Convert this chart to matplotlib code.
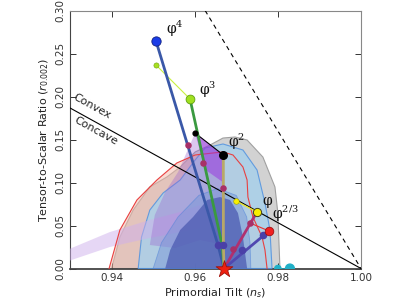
import numpy as np
import matplotlib
matplotlib.use('Agg')
import matplotlib.pyplot as plt

# 95% / 68% regions (ns, r)
gray95_ns = [0.9400, 0.9420, 0.9452, 0.9492, 0.9533, 0.9565, 0.9601, 0.9637, 0.9668, 0.9697, 0.9726, 0.9764, 0.9793, 0.9800, 0.9805]
gray95_r = [0.000, 0.0366, 0.0680, 0.0948, 0.1064, 0.1180, 0.1355, 0.1436, 0.1517, 0.1529, 0.1494, 0.1296, 0.0948, 0.0645, 0.000]

red95_ns = [0.9394, 0.9420, 0.9461, 0.9509, 0.9557, 0.9601, 0.9644, 0.9668, 0.9692, 0.9716, 0.9726, 0.9728, 0.9740, 0.9762, 0.9769, 0.9774]
red95_r = [0.000, 0.0448, 0.0797, 0.1029, 0.1227, 0.1320, 0.1343, 0.1355, 0.1320, 0.1180, 0.1029, 0.0831, 0.0599, 0.0366, 0.0215, 0.000]

blue95_ns = [0.9464, 0.9472, 0.9492, 0.9524, 0.9565, 0.9601, 0.9625, 0.9668, 0.9716, 0.9750, 0.9769, 0.9781, 0.9786]
blue95_r = [0.000, 0.0366, 0.0680, 0.0878, 0.1029, 0.1262, 0.1401, 0.1448, 0.1378, 0.1145, 0.0762, 0.0448, 0.000]

blue68_ns = [0.9500, 0.9520, 0.9560, 0.9610, 0.9655, 0.9700, 0.9725, 0.9733, 0.9735]
blue68_r = [0.000, 0.030, 0.060, 0.085, 0.093, 0.085, 0.060, 0.030, 0.000]

dark68_ns = [0.9529, 0.9541, 0.9565, 0.9596, 0.9630, 0.9661, 0.9685, 0.9704, 0.9716, 0.9726]
dark68_r = [0.000, 0.0215, 0.0448, 0.0599, 0.0797, 0.0831, 0.0797, 0.0645, 0.0366, 0.000]

band_ns = [0.9280, 0.9396, 0.9492, 0.9565, 0.9613, 0.9613, 0.9541, 0.9492, 0.9396, 0.9280]
band_r = [0.0190, 0.0424, 0.0564, 0.0657, 0.0738, 0.0471, 0.0401, 0.0355, 0.0250, 0.0060]

purple_ns = [0.9492, 0.9504, 0.9529, 0.9560, 0.9601, 0.9669, 0.9669, 0.9613, 0.9553]
purple_r = [0.0273, 0.0622, 0.0890, 0.1122, 0.1576, 0.1320, 0.0273, 0.0331, 0.0238]

wedge_ns = [0.9601, 0.9669, 0.9669, 0.9625]
wedge_r = [0.1576, 0.1320, 0.1000, 0.1150]

# model predictions
star = (0.96705, 0.0)
phi4_ns = [0.95069, 0.96560, 0.96705]
phi4_r = [0.2645, 0.0273, 0.0]
phi3_ns = [0.95887, 0.96660, 0.96705]
phi3_r = [0.1971, 0.0273, 0.0]
phi2_ns = [0.96688, 0.96690, 0.96705]
phi2_r = [0.1320, 0.0273, 0.0]
phi1_ns = [0.96705, 0.97498]
phi1_r = [0.0, 0.0657]
phi23_ns = [0.96705, 0.97787]
phi23_r = [0.0, 0.0436]

mag_ns = [0.95839, 0.96199, 0.96680, 0.96921, 0.97330]
mag_r = [0.1436, 0.1227, 0.0936, 0.0227, 0.0529]
navy_ns = [0.96560, 0.96680, 0.97130, 0.97643]
navy_r = [0.0273, 0.0273, 0.0215, 0.0390]

cyan_ns = [0.9800, 0.9829]
cyan_r = [0.0, 0.0]

fig = plt.figure(figsize=(4, 3), dpi=100)
ax = fig.add_axes([0.175, 0.105, 0.7275, 0.86])

ax.fill(gray95_ns, gray95_r, fc='#d2d2d2', ec='#a0a0a0', lw=0.8, zorder=1)
ax.fill(red95_ns, red95_r, fc='#f4b8a8', ec='none', alpha=0.5, zorder=2)
ax.fill(blue95_ns, blue95_r, fc='#a6d0ec', ec='#4a8ee0', lw=0.8, alpha=0.8, zorder=3)
ax.fill(band_ns, band_r, fc='#cfb0ec', ec='none', alpha=0.5, zorder=3.5)
ax.fill(purple_ns, purple_r, fc='#9a60d0', ec='none', alpha=0.35, zorder=3.6)
ax.fill(blue68_ns, blue68_r, fc='#7896d8', ec='#4a7fd8', lw=0.6, alpha=0.5, zorder=4)
ax.fill(dark68_ns, dark68_r, fc='#4a58b0', ec='none', alpha=0.72, zorder=4.2)
ax.plot(red95_ns, red95_r, color='#e84040', lw=0.8, zorder=4.3)
ax.fill(wedge_ns, wedge_r, fc='#9930e0', ec='none', alpha=0.5, zorder=4.5)

# convex / concave and r = 8(1-ns)
xs = np.array([0.93, 1.0])
ax.plot(xs, 8.0 / 3.0 * (1 - xs), color='black', lw=0.8, zorder=5)
xd = np.array([0.9625, 1.0])
ax.plot(xd, 8 * (1 - xd), color='black', lw=0.8, ls=(0, (4, 3.5)), zorder=5)
ax.text(0.9352, 0.188, 'Convex', rotation=-28.9, ha='center', va='center', fontsize=8, color='#222222')
ax.text(0.9362, 0.160, 'Concave', rotation=-28.9, ha='center', va='center', fontsize=8, color='#222222')

# thin connectors
ax.plot([0.95069, 0.95887], [0.2366, 0.1971], color='#c8f040', lw=0.8, zorder=6)
ax.plot([0.96007, 0.96688], [0.1576, 0.1320], color='black', lw=0.8, zorder=6)
ax.plot([0.96993, 0.97498], [0.0785, 0.0657], color='#f0e820', lw=0.9, zorder=6)
ax.plot([0.97330, 0.97787], [0.0529, 0.0436], color='#e83030', lw=0.8, zorder=6)

# model lines
ax.plot(phi4_ns, phi4_r, color='#3a58a8', lw=2.0, zorder=7)
ax.plot(phi3_ns, phi3_r, color='#3a9a40', lw=2.0, zorder=7)
ax.plot(phi2_ns, phi2_r, color='#b8a868', lw=2.0, zorder=7)
ax.plot(phi1_ns, phi1_r, color='#b03070', lw=2.0, zorder=7)
ax.plot(phi23_ns, phi23_r, color='#5048b0', lw=2.0, zorder=7)

ax.scatter(mag_ns, mag_r, s=22, color='#a83068', zorder=8, lw=0)
ax.scatter(navy_ns, navy_r, s=30, color='#4a40a8', zorder=8, lw=0)

# end points
ax.scatter([0.95069], [0.2645], s=45, color='#1a3ce8', ec='#102080', lw=0.6, zorder=9)
ax.scatter([0.95069], [0.2366], s=14, color='#a8e020', ec='#70a010', lw=0.4, zorder=9)
ax.scatter([0.95887], [0.1971], s=40, color='#a0e020', ec='#60a010', lw=0.6, zorder=9)
ax.scatter([0.96688], [0.1320], s=30, color='black', zorder=9)
ax.scatter([0.96007], [0.1576], s=12, color='black', zorder=9)
ax.scatter([0.97498], [0.0657], s=35, color='#f8f000', ec='#404020', lw=0.7, zorder=9)
ax.scatter([0.96993], [0.0785], s=16, color='#f8f000', ec='#a0a000', lw=0.4, zorder=9)
ax.scatter([0.97787], [0.0436], s=38, color='#f02020', ec='#a01010', lw=0.6, zorder=9)

ax.plot(cyan_ns, cyan_r, color='#20a0b8', lw=1.2, zorder=9)
ax.scatter(cyan_ns, cyan_r, s=[20, 40], color='#20b0c8', zorder=9)
ax.scatter([star[0]], [star[1]], marker='*', s=160, color='#ee2010', ec='#a01008', lw=0.6, zorder=12, clip_on=False)

lab = dict(fontsize=10, math_fontfamily='dejavuserif', color='#111111')
ax.text(0.9530, 0.273, r'$\mathrm{φ}^4$', **lab)
ax.text(0.9610, 0.202, r'$\mathrm{φ}^3$', **lab)
ax.text(0.9680, 0.141, r'$\mathrm{φ}^2$', **lab)
ax.text(0.9763, 0.074, r'$\mathrm{φ}$', **lab)
ax.text(0.9787, 0.057, r'$\mathrm{φ}^{2/3}$', **lab)

ax.set_xlim(0.93, 1.00)
ax.set_ylim(0.0, 0.30)
ax.set_xticks([0.94, 0.96, 0.98, 1.00])
ax.set_xticklabels(['0.94', '0.96', '0.98', '1.00'])
ax.set_yticks([0.00, 0.05, 0.10, 0.15, 0.20, 0.25, 0.30])
ax.set_yticklabels(['0.00', '0.05', '0.10', '0.15', '0.20', '0.25', '0.30'], rotation=90, va='center')
ax.tick_params(direction='in', top=True, right=True, labelsize=7.5, colors='#333333', length=4, width=0.7)
ax.set_xlabel(r'Primordial Tilt ($n_s$)', fontsize=8, color='#222222', labelpad=2)
ax.set_ylabel(r'Tensor-to-Scalar Ratio ($r_{0.002}$)', fontsize=8, color='#222222', labelpad=3)
for s in ['top', 'right']:
    ax.spines[s].set_color('#888888')
for s in ['left', 'bottom']:
    ax.spines[s].set_color('#444444')
ax.spines['bottom'].set_linewidth(1.3)

plt.savefig('out.png', dpi=100)
